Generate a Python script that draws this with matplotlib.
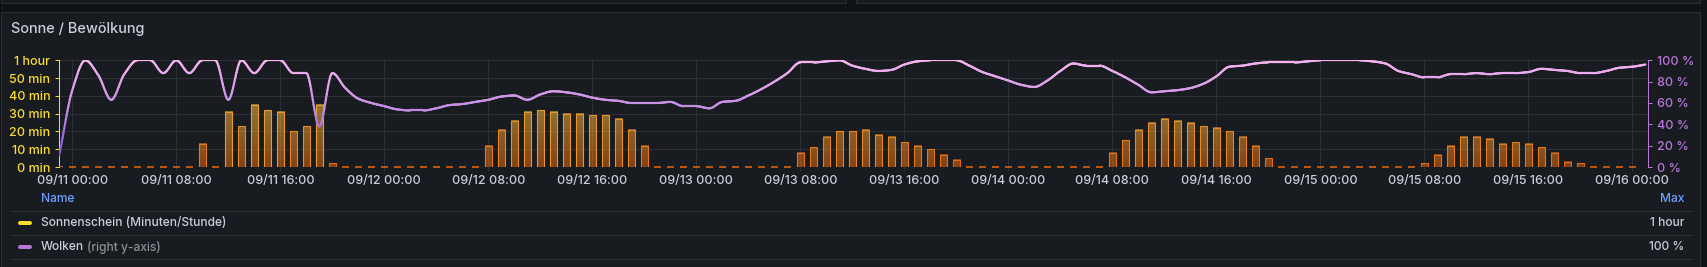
import numpy as np
import matplotlib
matplotlib.use('Agg')
import matplotlib.pyplot as plt
from matplotlib.colors import LinearSegmentedColormap, Normalize
from matplotlib.collections import LineCollection
from matplotlib.patches import Rectangle

plt.rcParams['font.family'] = ['Inter', 'DejaVu Sans']

W, H = 1708, 267
PX = 72 / 100  # points per pixel at dpi 100

# Farben (Grafana dark)
PAGE_BG = '#111217'
PANEL_BG = '#181b1f'
BORDER = '#2a2d33'
GRID = '#2c2f36'
TEXT = '#ccccdc'
TEXT_DIM = '#8e8e98'
BLUE = '#6e9fff'
SUN_COLOR = '#fade2a'
CLOUD_COLOR = '#b877d9'

# Stunden seit 09/11 00:00
sun_hours = list(range(-1, 121))
sunshine = [0,
            0, 0, 0, 0, 0, 0, 0, 0, 0, 0, 13, 0, 31, 23, 35, 32, 31, 20, 23, 35, 2, 0, 0, 0,
            0, 0, 0, 0, 0, 0, 0, 0, 12, 21, 26, 31, 32, 31, 30, 30, 29, 29, 27, 21, 12, 0, 0, 0,
            0, 0, 0, 0, 0, 0, 0, 0, 8, 11, 17, 20, 20, 21, 18, 17, 14, 12, 10, 7, 4, 0, 0, 0,
            0, 0, 0, 0, 0, 0, 0, 0, 8, 15, 21, 25, 27, 26, 25, 23, 22, 20, 17, 12, 5, 0, 0, 0,
            0, 0, 0, 0, 0, 0, 0, 0, 2, 7, 12, 17, 17, 16, 13, 14, 13, 11, 8, 3, 2, 0, 0, 0,
            0]

cloud_hours = list(range(-1, 122))
clouds = [11,
          72, 100, 86, 63, 87, 100, 100, 88, 100, 88, 100, 100, 63, 100, 88, 100, 100, 88, 88, 38, 88, 74, 64, 60,
          57, 54, 53, 53, 55, 58, 59, 61, 63, 66, 67, 63, 68, 71, 70, 68, 65, 63, 62, 60, 60, 60, 61, 57,
          57, 55, 61, 62, 67, 73, 80, 88, 98, 98, 99, 100, 95, 92, 90, 91, 96, 99, 100, 100, 100, 95, 89, 85,
          81, 77, 75, 81, 90, 97, 95, 95, 90, 84, 77, 70, 71, 72, 74, 78, 85, 94, 95, 97, 98, 98, 98, 99,
          100, 100, 100, 100, 99, 97, 90, 87, 84, 84, 87, 87, 88, 87, 88, 88, 89, 92, 91, 90, 88, 88, 90, 93,
          94, 96]

x_ticks = [0, 8, 16, 24, 32, 40, 48, 56, 64, 72, 80, 88, 96, 104, 112, 120]
x_labels = ['09/11 00:00', '09/11 08:00', '09/11 16:00', '09/12 00:00', '09/12 08:00', '09/12 16:00',
            '09/13 00:00', '09/13 08:00', '09/13 16:00', '09/14 00:00', '09/14 08:00', '09/14 16:00',
            '09/15 00:00', '09/15 08:00', '09/15 16:00', '09/16 00:00']
sun_ticks = [0, 10, 20, 30, 40, 50, 60]
sun_labels = ['0 min', '10 min', '20 min', '30 min', '40 min', '50 min', '1 hour']
cloud_ticks = [0, 20, 40, 60, 80, 100]
cloud_labels = ['0 %', '20 %', '40 %', '60 %', '80 %', '100 %']

legend_rows = [('Sonnenschein (Minuten/Stunde)', '', SUN_COLOR, '1 hour'),
               ('Wolken', '(right y-axis)', CLOUD_COLOR, '100 %')]

sun_cmap = LinearSegmentedColormap.from_list(
    'sun', [(0.0, '#e0640e'), (0.53, '#f0b840'), (1.0, '#f8dc40')])
cloud_cmap = LinearSegmentedColormap.from_list(
    'cloud', [(0.0, '#6a3fd0'), (0.55, '#c48ce4'), (1.0, '#f7b4f0')])


def monotone_curve(x, y, n=16):
    """Glatte Linie wie Grafana 'smooth' (monotone kubische Interpolation)"""
    x = np.asarray(x, float)
    y = np.asarray(y, float)
    h = np.diff(x)
    d = np.diff(y) / h
    m = np.zeros_like(y)
    m[0], m[-1] = d[0], d[-1]
    for i in range(1, len(y) - 1):
        if d[i - 1] * d[i] <= 0:
            m[i] = 0
        else:
            m[i] = 3 * (h[i - 1] + h[i]) / ((2 * h[i] + h[i - 1]) / d[i - 1] + (h[i] + 2 * h[i - 1]) / d[i])
    t = np.linspace(0, 1, n, endpoint=False)
    h00 = 2 * t**3 - 3 * t**2 + 1
    h10 = t**3 - 2 * t**2 + t
    h01 = -2 * t**3 + 3 * t**2
    h11 = t**3 - t**2
    xs, ys = [], []
    for i in range(len(x) - 1):
        xs.append(x[i] + t * h[i])
        ys.append(h00 * y[i] + h10 * h[i] * m[i] + h01 * y[i + 1] + h11 * h[i] * m[i + 1])
    xs.append([x[-1]])
    ys.append([y[-1]])
    return np.concatenate(xs), np.concatenate(ys)


fig = plt.figure(figsize=(W / 100, H / 100), dpi=100, facecolor=PAGE_BG)

# Hintergrund in Pixelkoordinaten
bg = fig.add_axes([0, 0, 1, 1], zorder=0)
bg.set_xlim(0, W)
bg.set_ylim(H, 0)
bg.axis('off')
bg.add_patch(Rectangle((0.5, -10), 846, 12.7, facecolor=PANEL_BG, edgecolor=BORDER, lw=1 * PX))
bg.add_patch(Rectangle((856, -10), 844, 12.7, facecolor=PANEL_BG, edgecolor=BORDER, lw=1 * PX))
bg.add_patch(Rectangle((1.5, 11.7), 1698.5, 270, facecolor=PANEL_BG, edgecolor=BORDER, lw=1 * PX))
bg.text(10.7, 33, 'Sonne / Bewölkung', color=TEXT, fontsize=14.5 * PX, fontweight=500, va='baseline', ha='left')

# Legende als Tabelle
bg.text(40.7, 198.5, 'Name', color=BLUE, fontsize=12 * PX, fontweight=500, va='center', ha='left')
bg.text(1684, 198.5, 'Max', color=BLUE, fontsize=12 * PX, fontweight=500, va='center', ha='right')
for y_sep in [211, 235, 259]:
    bg.plot([10, 1692], [y_sep, y_sep], color=BORDER, lw=1 * PX)
for i, (name, hint, color, max_val) in enumerate(legend_rows):
    y_row = 223 + 24 * i
    bg.plot([20.3, 29.7], [y_row, y_row], color=color, lw=4 * PX, solid_capstyle='round')
    bg.text(40.7, y_row, name, color=TEXT, fontsize=12 * PX, fontweight=500, va='center', ha='left')
    if hint:
        bg.text(86.7, y_row, hint, color=TEXT_DIM, fontsize=12 * PX, fontweight=500, va='center', ha='left')
    bg.text(1684, y_row, max_val, color=TEXT, fontsize=12 * PX, fontweight=500, va='center', ha='right')

# Diagramm
left, right = 59.5, 1648
top, bottom = 60.3, 167
ax = fig.add_axes([left / W, 1 - bottom / H, (right - left) / W, (bottom - top) / H], zorder=1)
ax.set_facecolor('none')
ax2 = ax.twinx()

# Sonnenschein-Balken mit Farbverlauf nach Wert
bars = ax.bar(sun_hours, sunshine, width=0.56, facecolor='none', linewidth=1.1 * PX, zorder=3)
for k, (rect, v) in enumerate(zip(bars, sunshine)):
    rect.set_edgecolor(sun_cmap(v / 60 * 0.65))
    if v == 0:
        rect.set_linewidth(1.6 * PX)
        if k > 0:
            rect.set_clip_on(False)
    else:
        x0 = rect.get_x()
        grad = sun_cmap(np.linspace(0, v / 60, 64))[:, None, :]
        grad[..., 3] = 0.55
        ax.imshow(grad, extent=(x0, x0 + rect.get_width(), 0, v), origin='lower',
                  aspect='auto', interpolation='bilinear', zorder=2)

# Wolken-Linie
cx, cy = monotone_curve(cloud_hours, clouds)
pts = np.column_stack([cx, cy]).reshape(-1, 1, 2)
segs = np.concatenate([pts[:-1], pts[1:]], axis=1)
lc = LineCollection(segs, cmap=cloud_cmap, norm=Normalize(0, 100), linewidth=2.2 * PX, capstyle='round')
lc.set_array((cy[:-1] + cy[1:]) / 2)
ax2.add_collection(lc)

ax.set_xlim(-0.985, 121.2)
ax.set_ylim(0, 60)
ax2.set_ylim(0, 100)

ax.set_xticks(x_ticks)
ax.set_xticklabels(x_labels)
ax.set_yticks(sun_ticks)
ax.set_yticklabels(sun_labels)
ax2.set_yticks(cloud_ticks)
ax2.set_yticklabels(cloud_labels)

ax.grid(True, color=GRID, linewidth=1 * PX)
ax.set_axisbelow(True)
ax.tick_params(axis='x', length=4 * PX, width=1 * PX, color=GRID, pad=4 * PX,
               labelsize=12.5 * PX, labelcolor=TEXT)
ax.tick_params(axis='y', length=4 * PX, width=1 * PX, color=SUN_COLOR, pad=5 * PX,
               labelsize=12.5 * PX, labelcolor=SUN_COLOR)
ax2.tick_params(axis='y', length=4 * PX, width=1 * PX, color=CLOUD_COLOR, pad=5 * PX,
                labelsize=12.5 * PX, labelcolor=CLOUD_COLOR)
for lbl in ax.get_xticklabels() + ax.get_yticklabels() + ax2.get_yticklabels():
    lbl.set_fontweight(500)

for side in ['top', 'bottom', 'right']:
    ax.spines[side].set_visible(False)
for side in ['top', 'bottom', 'left']:
    ax2.spines[side].set_visible(False)
ax.spines['left'].set_color(SUN_COLOR)
ax.spines['left'].set_linewidth(1 * PX)
ax2.spines['right'].set_color(CLOUD_COLOR)
ax2.spines['right'].set_linewidth(1 * PX)

fig.savefig('out.png', dpi=100, facecolor=PAGE_BG)
